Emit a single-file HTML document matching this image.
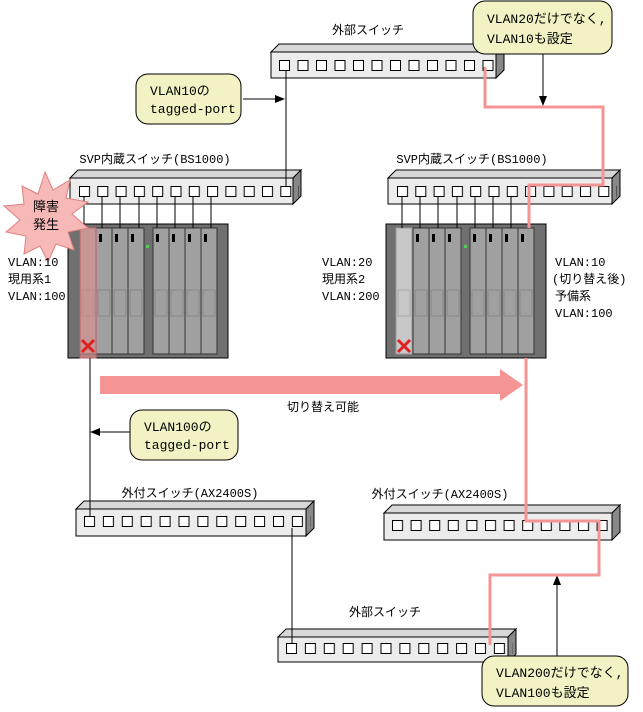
<!DOCTYPE html>
<html><head><meta charset="utf-8"><style>
html,body{margin:0;padding:0;background:#fff}
svg{display:block}
text{font-family:"Liberation Sans","Noto Sans CJK JP",sans-serif;font-size:12px;fill:#000}
.m{font-family:"Liberation Mono","Noto Sans CJK JP",monospace;font-size:12px}
.c{font-size:13px}
</style></head><body>
<svg width="643" height="712" viewBox="0 0 643 712" xmlns="http://www.w3.org/2000/svg">
<defs>
<pattern id="p1" width="18.5" height="20" patternUnits="userSpaceOnUse" x="279" y="60"><rect x="0.5" y="0.5" width="10" height="10" fill="#fff" stroke="#000"/></pattern>
<pattern id="p2" width="18.3" height="20" patternUnits="userSpaceOnUse" x="79" y="186"><rect x="0.5" y="0.5" width="10" height="10" fill="#fff" stroke="#000"/></pattern>
<pattern id="p3" width="18.3" height="20" patternUnits="userSpaceOnUse" x="397" y="186"><rect x="0.5" y="0.5" width="10" height="10" fill="#fff" stroke="#000"/></pattern>
<pattern id="p4" width="18.9" height="20" patternUnits="userSpaceOnUse" x="84" y="516"><rect x="0.5" y="0.5" width="10" height="10" fill="#fff" stroke="#000"/></pattern>
<pattern id="p5" width="18.6" height="20" patternUnits="userSpaceOnUse" x="392" y="520"><rect x="0.5" y="0.5" width="10" height="10" fill="#fff" stroke="#000"/></pattern>
<pattern id="p6" width="18.9" height="20" patternUnits="userSpaceOnUse" x="286" y="643"><rect x="0.5" y="0.5" width="10" height="10" fill="#fff" stroke="#000"/></pattern>
<marker id="ah" markerWidth="10" markerHeight="8" refX="9" refY="4" orient="auto" markerUnits="userSpaceOnUse"><path d="M0,0L10,4L0,8z" fill="#000"/></marker>
</defs>

<g stroke="#000" stroke-width="1">
<polygon points="271,52 279,44 504,44 496,52" fill="#d8d8d8"/><polygon points="496,52 504,44 504,70 496,78" fill="#888"/><rect x="271" y="52" width="225" height="26" fill="#ececec"/>
<polygon points="70,178 78,170 301,170 293,178" fill="#d8d8d8"/><polygon points="293,178 301,170 301,196 293,204" fill="#888"/><rect x="70" y="178" width="223" height="26" fill="#ececec"/>
<polygon points="388,178 396,170 620,170 612,178" fill="#d8d8d8"/><polygon points="612,178 620,170 620,196 612,204" fill="#888"/><rect x="388" y="178" width="224" height="26" fill="#ececec"/>
<polygon points="76,509 84,501 314,501 306,509" fill="#d8d8d8"/><polygon points="306,509 314,501 314,528 306,536" fill="#888"/><rect x="76" y="509" width="230" height="27" fill="#ececec"/>
<polygon points="384,513 392,505 620,505 612,513" fill="#d8d8d8"/><polygon points="612,513 620,505 620,532 612,540" fill="#888"/><rect x="384" y="513" width="228" height="27" fill="#ececec"/>
<polygon points="278,637 286,629 516,629 508,637" fill="#d8d8d8"/><polygon points="508,637 516,629 516,654 508,662" fill="#888"/><rect x="278" y="637" width="230" height="25" fill="#ececec"/>
</g>
<rect x="279" y="60" width="222" height="12" fill="url(#p1)"/>
<rect x="79" y="186" width="220" height="12" fill="url(#p2)"/>
<rect x="397" y="186" width="220" height="12" fill="url(#p3)"/>
<rect x="84" y="516" width="227" height="12" fill="url(#p4)"/>
<rect x="392" y="520" width="223" height="12" fill="url(#p5)"/>
<rect x="286" y="643" width="227" height="12" fill="url(#p6)"/>

<g stroke="#000">
<rect x="68" y="224" width="160" height="134" fill="#707070"/>
<rect x="386" y="224" width="160" height="134" fill="#707070"/>
</g>
<g stroke="#333" fill="#a0a0a0">
<rect x="80" y="228" width="16" height="126"/><rect x="96" y="228" width="16" height="126"/><rect x="112" y="228" width="16" height="126"/><rect x="128" y="228" width="16" height="126"/>
<rect x="153" y="228" width="16" height="126"/><rect x="169" y="228" width="16" height="126"/><rect x="185" y="228" width="16" height="126"/><rect x="201" y="228" width="16" height="126"/>
<rect x="396" y="228" width="16" height="126" fill="#c8c8c8" stroke="#999"/><rect x="413" y="228" width="16" height="126"/><rect x="429" y="228" width="16" height="126"/><rect x="445" y="228" width="16" height="126"/>
<rect x="470" y="228" width="16" height="126"/><rect x="486" y="228" width="16" height="126"/><rect x="502" y="228" width="16" height="126"/><rect x="518" y="228" width="16" height="126"/>
</g>
<g fill="none" stroke="#888">
<rect x="82" y="290" width="12" height="26"/><rect x="98" y="290" width="12" height="26"/><rect x="114" y="290" width="12" height="26"/><rect x="130" y="290" width="12" height="26"/>
<rect x="155" y="290" width="12" height="26"/><rect x="171" y="290" width="12" height="26"/><rect x="187" y="290" width="12" height="26"/><rect x="203" y="290" width="12" height="26"/>
<rect x="398" y="290" width="12" height="26" stroke="#aaa"/><rect x="415" y="290" width="12" height="26"/><rect x="431" y="290" width="12" height="26"/><rect x="447" y="290" width="12" height="26"/>
<rect x="472" y="290" width="12" height="26"/><rect x="488" y="290" width="12" height="26"/><rect x="504" y="290" width="12" height="26"/><rect x="520" y="290" width="12" height="26"/>
</g>
<g fill="#000">
<rect x="99" y="234" width="3" height="8"/><rect x="115" y="234" width="3" height="8"/><rect x="131" y="234" width="3" height="8"/>
<rect x="156" y="234" width="3" height="8"/><rect x="172" y="234" width="3" height="8"/><rect x="188" y="234" width="3" height="8"/><rect x="204" y="234" width="3" height="8"/>
<rect x="416" y="234" width="3" height="8"/><rect x="432" y="234" width="3" height="8"/><rect x="448" y="234" width="3" height="8"/>
<rect x="473" y="234" width="3" height="8"/><rect x="489" y="234" width="3" height="8"/><rect x="505" y="234" width="3" height="8"/><rect x="521" y="234" width="3" height="8"/>
</g>
<rect x="146" y="245" width="3" height="3" fill="#5c5"/><rect x="464" y="245" width="3" height="3" fill="#5c5"/>
<rect x="80" y="228" width="16" height="130" fill="#e09090" fill-opacity="0.6" stroke="#c06060"/>
<path d="M82,340L94,352M94,340L82,352" stroke="#e02020" stroke-width="3"/>
<path d="M398,340L410,352M410,340L398,352" stroke="#e02020" stroke-width="3"/>

<g stroke="#000" stroke-width="1">
<path d="M84,197V228M102,197V228M120,197V228M139,197V228M157,197V228M175,197V228M193,197V228M211,197V228"/>
<path d="M402,197V228M420,197V228M438,197V228M457,197V228M475,197V228M493,197V228M511,197V228"/>
<path d="M286,71V186"/>
<path d="M90,358V517"/>
<path d="M292,528V643"/>
<path d="M243,99H284" marker-end="url(#ah)"/>
<path d="M130,432H91" marker-end="url(#ah)"/>
<path d="M543,54V105" marker-end="url(#ah)"/>
<path d="M557,656V576" marker-end="url(#ah)"/>
</g>

<g fill="none" stroke="#f49494" stroke-width="3">
<path d="M485,67V107H603V185H529V228"/>
<path d="M526,358V521H599V575H490V645"/>
</g>
<path d="M100,376H500V369L523,385L500,401V394H100Z" fill="#f49494"/>

<polygon points="45,172 53,190 70,180 66,198 88,202 72,214 88,228 68,232 74,250 56,244 48,262 40,246 24,254 26,236 6,232 20,220 4,206 24,204 22,186 38,194" fill="#f7b8b8" stroke="#e08080"/>
<text x="46" y="211" text-anchor="middle" style="font-size:13px">障害</text>
<text x="46" y="229" text-anchor="middle" style="font-size:13px">発生</text>

<g fill="#f2f2c4" stroke="#000">
<rect x="473" y="1" width="139" height="53" rx="12"/>
<rect x="136" y="74" width="105" height="50" rx="12"/>
<rect x="130" y="410" width="108" height="50" rx="12"/>
<rect x="482" y="656" width="146" height="50" rx="12"/>
</g>
<text class="m c" x="487" y="23">VLAN20だけでなく,</text>
<text class="m c" x="487" y="43">VLAN10も設定</text>
<text class="m c" x="150" y="95">VLAN10の</text>
<text class="m c" x="150" y="113">tagged-port</text>
<text class="m c" x="144" y="431">VLAN100の</text>
<text class="m c" x="144" y="449">tagged-port</text>
<text class="m c" x="496" y="677">VLAN200だけでなく,</text>
<text class="m c" x="496" y="697">VLAN100も設定</text>

<text x="368" y="34" text-anchor="middle">外部スイッチ</text>
<text class="m" x="155" y="163" text-anchor="middle">SVP内蔵スイッチ(BS1000)</text>
<text class="m" x="472" y="163" text-anchor="middle">SVP内蔵スイッチ(BS1000)</text>
<text class="m" x="8" y="266">VLAN:10</text>
<text class="m" x="8" y="283">現用系1</text>
<text class="m" x="8" y="300">VLAN:100</text>
<text class="m" x="322" y="266">VLAN:20</text>
<text class="m" x="322" y="283">現用系2</text>
<text class="m" x="322" y="300">VLAN:200</text>
<text class="m" x="555" y="266">VLAN:10</text>
<text class="m" x="552" y="283">(切り替え後)</text>
<text class="m" x="555" y="300">予備系</text>
<text class="m" x="555" y="317">VLAN:100</text>
<text x="323" y="411" text-anchor="middle">切り替え可能</text>
<text class="m" x="190" y="497" text-anchor="middle">外付スイッチ(AX2400S)</text>
<text class="m" x="440" y="498" text-anchor="middle">外付スイッチ(AX2400S)</text>
<text x="385" y="616" text-anchor="middle">外部スイッチ</text>
</svg>
</body></html>
